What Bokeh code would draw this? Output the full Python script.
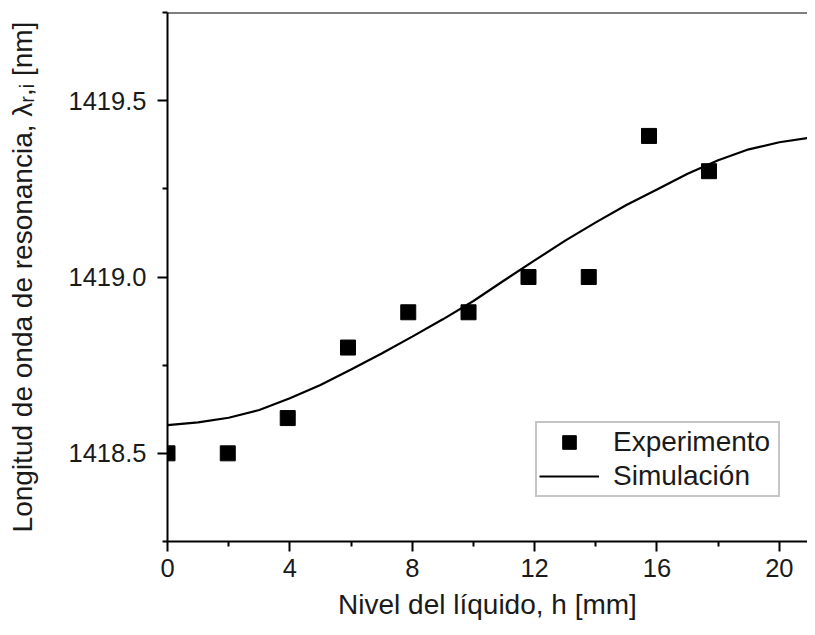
from bokeh.plotting import figure
from bokeh.models import (Range1d, FixedTicker, PrintfTickFormatter, Span, Legend,
                          LegendItem)
from bokeh.embed import file_html
from bokeh.resources import INLINE

# ---- data ----
h_exp = [0.0, 1.97, 3.93, 5.9, 7.87, 9.84, 11.8, 13.77, 15.74, 17.7]
lam_exp = [1418.5, 1418.5, 1418.6, 1418.8, 1418.9, 1418.9, 1419.0, 1419.0, 1419.4, 1419.3]

h_sim = [0, 1, 2, 3, 4, 5, 6, 7, 8, 9, 10, 11, 12, 13, 14, 15, 16, 17, 18, 19, 20, 21, 21.3]
lam_sim = [1418.580, 1418.588, 1418.601, 1418.623, 1418.656, 1418.694, 1418.738, 1418.783,
           1418.831, 1418.880, 1418.932, 1418.990, 1419.047, 1419.103, 1419.155, 1419.204,
           1419.248, 1419.293, 1419.331, 1419.362, 1419.382, 1419.395, 1419.398]

x_major = [0, 4, 8, 12, 16, 20]
x_minor = [2, 6, 10, 14, 18]
y_major = [1418.5, 1419.0, 1419.5]
y_minor = [1418.25, 1418.75, 1419.25, 1419.75]

FONT = "Liberation Sans"
TXT = "#1a1a1a"

p = figure(width=807, height=631, output_backend="svg", toolbar_location=None,
           x_range=Range1d(0, 20.92), y_range=Range1d(1418.25, 1419.75),
           min_border_left=167, min_border_right=0, min_border_top=12, min_border_bottom=90)
p.outline_line_color = None
p.grid.visible = False
p.background_fill_color = "white"
p.border_fill_color = "white"

for ax in (p.xaxis[0], p.yaxis[0]):
    ax.axis_line_width = 2
    ax.axis_line_color = "black"
    ax.major_tick_line_width = 2
    ax.minor_tick_line_width = 2
    ax.major_tick_line_color = "black"
    ax.minor_tick_line_color = "black"
    ax.major_tick_out = 10
    ax.major_tick_in = 0
    ax.minor_tick_out = 5
    ax.minor_tick_in = 0
    ax.major_label_text_font = FONT
    ax.major_label_text_font_size = "25.5px"
    ax.major_label_text_color = TXT
    ax.axis_label_text_font = FONT
    ax.axis_label_text_font_size = "28px"
    ax.axis_label_text_font_style = "normal"
    ax.axis_label_text_color = TXT

p.xaxis[0].ticker = FixedTicker(ticks=x_major, minor_ticks=x_minor)
p.yaxis[0].ticker = FixedTicker(ticks=y_major, minor_ticks=y_minor)
p.yaxis[0].formatter = PrintfTickFormatter(format="%.1f")
p.xaxis[0].major_label_standoff = 7
p.yaxis[0].major_label_standoff = 11
p.xaxis[0].axis_label = "Nivel del líquido, h [mm]"
p.yaxis[0].axis_label = "Longitud de onda de resonancia, λᵣ,ᵢ [nm]"
p.xaxis[0].axis_label_standoff = 9
p.yaxis[0].axis_label_standoff = 28

top_line = Span(location=1419.75, dimension="width", line_color="black", line_width=2)
p.add_layout(top_line)

sim = p.line(h_sim, lam_sim, line_color="black", line_width=2.2)
exp = p.scatter(h_exp, lam_exp, marker="square", size=15, color="black")

legend = Legend(items=[LegendItem(label="Experimento", renderers=[exp]),
                       LegendItem(label="Simulación", renderers=[sim])],
                location=(368, 44), padding=2, spacing=0, margin=0,
                glyph_width=60, glyph_height=34, label_height=34, label_width=163,
                label_standoff=14,
                label_text_font=FONT, label_text_font_size="28px", label_text_color=TXT,
                border_line_color="#8c8c8c", border_line_width=2,
                background_fill_color="white", background_fill_alpha=1)
p.add_layout(legend, "center")

open("out.html", "w").write(file_html(p, INLINE))
